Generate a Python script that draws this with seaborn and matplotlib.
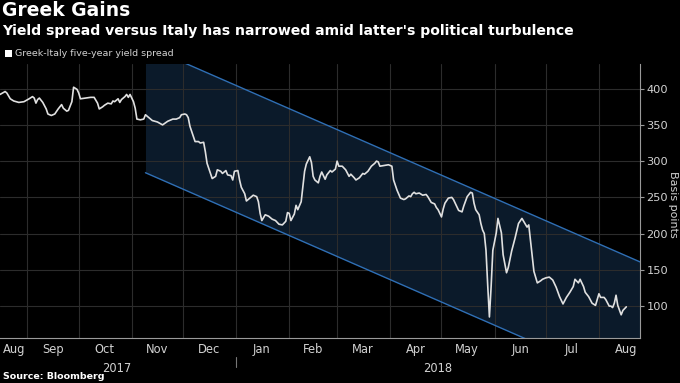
import matplotlib
matplotlib.use("Agg")
import matplotlib.pyplot as plt
import matplotlib.dates as mdates
import matplotlib.transforms as mtransforms
from matplotlib.ticker import NullFormatter
from matplotlib.patches import Rectangle
import seaborn as sns
import pandas as pd

# ---------------- data ----------------
dates = [
    "2017-08-16", "2017-08-19", "2017-08-20", "2017-08-22", "2017-08-24", "2017-08-27", "2017-08-30",
    "2017-09-02", "2017-09-04", "2017-09-05", "2017-09-06", "2017-09-07", "2017-09-08", "2017-09-10",
    "2017-09-12", "2017-09-13", "2017-09-15", "2017-09-17", "2017-09-19", "2017-09-21", "2017-09-22",
    "2017-09-24", "2017-09-25", "2017-09-27", "2017-09-28", "2017-09-30",
    "2017-10-01", "2017-10-02", "2017-10-05", "2017-10-08", "2017-10-10", "2017-10-12", "2017-10-13",
    "2017-10-15", "2017-10-16", "2017-10-18", "2017-10-20", "2017-10-21", "2017-10-22", "2017-10-24",
    "2017-10-25", "2017-10-26", "2017-10-28", "2017-10-29", "2017-10-30", "2017-10-31",
    "2017-11-02", "2017-11-03", "2017-11-04", "2017-11-06", "2017-11-08", "2017-11-09", "2017-11-11",
    "2017-11-13", "2017-11-16", "2017-11-19", "2017-11-22", "2017-11-25", "2017-11-27", "2017-11-29",
    "2017-11-30",
    "2017-12-02", "2017-12-03", "2017-12-04", "2017-12-05", "2017-12-07", "2017-12-08", "2017-12-10",
    "2017-12-11", "2017-12-13", "2017-12-14", "2017-12-15", "2017-12-17", "2017-12-18", "2017-12-20",
    "2017-12-21", "2017-12-23", "2017-12-24", "2017-12-26", "2017-12-27", "2017-12-29", "2017-12-30",
    "2017-12-31",
    "2018-01-02", "2018-01-03", "2018-01-04", "2018-01-06", "2018-01-07", "2018-01-09", "2018-01-11",
    "2018-01-13", "2018-01-14", "2018-01-15", "2018-01-16", "2018-01-18", "2018-01-20", "2018-01-22",
    "2018-01-24", "2018-01-26", "2018-01-28", "2018-01-30", "2018-01-31",
    "2018-02-01", "2018-02-02", "2018-02-04", "2018-02-05", "2018-02-06", "2018-02-08", "2018-02-09",
    "2018-02-10", "2018-02-11", "2018-02-12", "2018-02-13", "2018-02-14", "2018-02-15", "2018-02-16",
    "2018-02-18", "2018-02-19", "2018-02-20", "2018-02-22", "2018-02-23", "2018-02-25", "2018-02-26",
    "2018-02-28",
    "2018-03-01", "2018-03-02", "2018-03-04", "2018-03-06", "2018-03-08", "2018-03-09", "2018-03-11",
    "2018-03-12", "2018-03-14", "2018-03-16", "2018-03-17", "2018-03-19", "2018-03-21", "2018-03-23",
    "2018-03-24", "2018-03-25", "2018-03-26", "2018-03-31",
    "2018-04-02", "2018-04-03", "2018-04-05", "2018-04-07", "2018-04-09", "2018-04-10", "2018-04-12",
    "2018-04-13", "2018-04-14", "2018-04-15", "2018-04-16", "2018-04-18", "2018-04-20", "2018-04-22",
    "2018-04-23", "2018-04-25", "2018-04-27", "2018-04-28", "2018-04-29",
    "2018-05-01", "2018-05-02", "2018-05-03", "2018-05-05", "2018-05-07", "2018-05-08", "2018-05-10",
    "2018-05-11", "2018-05-13", "2018-05-14", "2018-05-16", "2018-05-18", "2018-05-19", "2018-05-20",
    "2018-05-21", "2018-05-23", "2018-05-24", "2018-05-25", "2018-05-26", "2018-05-27", "2018-05-28",
    "2018-05-29", "2018-05-30", "2018-05-31",
    "2018-06-02", "2018-06-03", "2018-06-05", "2018-06-06", "2018-06-08", "2018-06-09", "2018-06-11",
    "2018-06-13", "2018-06-15", "2018-06-17", "2018-06-18", "2018-06-20", "2018-06-21", "2018-06-22",
    "2018-06-23", "2018-06-24", "2018-06-26", "2018-06-28", "2018-06-29",
    "2018-07-01", "2018-07-03", "2018-07-05", "2018-07-07", "2018-07-09", "2018-07-11", "2018-07-13",
    "2018-07-15", "2018-07-17", "2018-07-18", "2018-07-20", "2018-07-21", "2018-07-23", "2018-07-24",
    "2018-07-26", "2018-07-28", "2018-07-30",
    "2018-08-01", "2018-08-02", "2018-08-04", "2018-08-05", "2018-08-07", "2018-08-08", "2018-08-09",
    "2018-08-10", "2018-08-11", "2018-08-12", "2018-08-14", "2018-08-15", "2018-08-17",
]
spread = [
    392, 396, 394, 386, 383, 381, 382,
    386, 389, 387, 380, 385, 387, 381,
    372, 365, 363, 365, 372, 378, 373,
    369, 370, 382, 402, 399,
    394, 386, 387, 388, 388, 380, 372,
    375, 377, 380, 379, 383, 382, 386,
    381, 385, 389, 392, 388, 392,
    382, 373, 358, 357, 358, 364, 360,
    356, 354, 350, 355, 358, 358, 360,
    364,
    365, 364, 360, 348, 334, 327, 327,
    325, 326, 313, 297, 283, 276, 279,
    288, 286, 283, 287, 281, 280, 274,
    286,
    287, 274, 264, 255, 245, 249, 253,
    251, 244, 228, 218, 226, 224, 220,
    218, 213, 212, 217, 229,
    228, 218, 227, 239, 233, 244, 265,
    286, 296, 301, 306, 298, 279, 274,
    270, 279, 285, 275, 281, 287, 285,
    289,
    300, 293, 293, 288, 279, 282, 277,
    274, 277, 283, 282, 286, 293, 297,
    300, 299, 293, 295,
    293, 274, 260, 249, 247, 248, 252,
    251, 255, 257, 255, 256, 253, 254,
    251, 243, 241, 236, 233,
    223, 234, 242, 249, 250, 247, 237,
    232, 230, 238, 251, 257, 256, 242,
    233, 226, 214, 205, 200, 177, 129,
    85, 127, 177,
    201, 221, 201, 171, 146, 153, 176,
    194, 214, 221, 217, 209, 212, 191,
    171, 148, 132, 135, 137,
    139, 140, 136, 126, 113, 103, 112,
    119, 127, 137, 132, 137, 127, 119,
    113, 104, 101,
    117, 112, 112, 109, 100, 100, 98,
    104, 115, 101, 88, 94, 99,
]

# downward-sloping channel drawn on the chart
channel_dates = ["2017-11-09", "2018-08-25"]
channel_upper = [459, 161]
channel_lower = [284, -14]

month_labels = ["Aug", "Sep", "Oct", "Nov", "Dec", "Jan", "Feb", "Mar",
                "Apr", "May", "Jun", "Jul", "Aug"]
month_label_dates = ["2017-08-24", "2017-09-16", "2017-10-16", "2017-11-16",
                     "2017-12-16", "2018-01-16", "2018-02-15", "2018-03-16",
                     "2018-04-16", "2018-05-16", "2018-06-16", "2018-07-16",
                     "2018-08-17"]
year_labels = ["2017", "2018"]
year_label_dates = ["2017-10-23", "2018-04-29"]
y_ticks = [100, 150, 200, 250, 300, 350, 400]

# ---------------- style ----------------
sns.set_theme(style="dark")
plt.rcParams["font.family"] = ["DejaVu Sans"]
plt.rcParams["axes.axisbelow"] = "line"

BG = "black"
TXT = "#d2d2d2"
GRID = "#2c2c2c"
SPINE = "#9a9a9a"
BLUE = "#2f6fb5"
FILL = "#0b1a2a"

fig = plt.figure(figsize=(6.8, 3.83), dpi=100, facecolor=BG)
ax = fig.add_axes([0.0, 1 - 338 / 383, 640 / 680, (338 - 64) / 383])
ax.set_facecolor(BG)

df = pd.DataFrame({"date": pd.to_datetime(dates), "spread": spread})
ch = pd.DataFrame({"date": pd.to_datetime(channel_dates),
                   "upper": channel_upper, "lower": channel_lower})

ax.fill_between(ch["date"], ch["lower"], ch["upper"], color=FILL, lw=0, zorder=1)
sns.lineplot(data=ch, x="date", y="upper", color=BLUE, lw=1.0, ax=ax, zorder=3)
sns.lineplot(data=ch, x="date", y="lower", color=BLUE, lw=1.0, ax=ax, zorder=3)
sns.lineplot(data=df, x="date", y="spread", color="#e0e0e0", lw=1.2, ax=ax, zorder=4)

ax.set_xlim(pd.Timestamp("2017-08-16"), pd.Timestamp("2018-08-25"))
ax.set_ylim(56, 434)

# x axis: month boundaries as ticks/grid, labels centred on months
ax.xaxis.set_major_locator(mdates.MonthLocator())
ax.xaxis.set_major_formatter(NullFormatter())
ax.set_xticks(pd.to_datetime(month_label_dates), minor=True)
ax.set_xticklabels(month_labels, minor=True)
ax.tick_params(axis="x", which="minor", length=0, pad=3.5, labelsize=8.3, labelcolor=TXT)
ax.tick_params(axis="x", which="major", length=3, width=0.8, color=SPINE)

# y axis on the right
ax.yaxis.tick_right()
ax.set_yticks(y_ticks)
ax.tick_params(axis="y", which="major", length=3, width=0.8, color=SPINE,
               pad=1.5, labelsize=8.2, labelcolor=TXT)
ax.set_xlabel("")
ax.set_ylabel("")

ax.grid(True, which="major", axis="both", color=GRID, lw=0.8)
for s in ["left", "top"]:
    ax.spines[s].set_visible(False)
for s in ["right", "bottom"]:
    ax.spines[s].set_visible(True)
    ax.spines[s].set_color(SPINE)
    ax.spines[s].set_linewidth(0.8)

# year labels and separator
trans = mtransforms.blended_transform_factory(ax.transData, ax.transAxes)
for lab, d in zip(year_labels, year_label_dates):
    ax.text(pd.Timestamp(d), -0.11, lab, transform=trans, ha="center", va="center",
            fontsize=8.3, color=TXT, clip_on=False)
ax.plot([pd.Timestamp("2018-01-01")] * 2, [-0.069, -0.106], transform=trans,
        color="#777777", lw=0.8, clip_on=False)

# right axis title
fig.text(673.5 / 680, 1 - 204 / 383, "Basis points", rotation=270, ha="center", va="center",
         fontsize=8.0, color=TXT)

# titles
fig.text(2 / 680, 1 - 11 / 383, "Greek Gains", fontsize=13.5, fontweight="bold",
         color="white", ha="left", va="center")
fig.text(2 / 680, 1 - 31.5 / 383,
         "Yield spread versus Italy has narrowed amid latter's political turbulence",
         fontsize=10.1, fontweight="bold", color="white", ha="left", va="center")

# legend
fig.patches.append(Rectangle((5 / 680, 1 - 57 / 383), 7 / 680, 7 / 383,
                             transform=fig.transFigure, color="white", lw=0))
fig.text(15 / 680, 1 - 54 / 383, "Greek-Italy five-year yield spread", fontsize=6.8,
         color=TXT, ha="left", va="center")

# source
fig.text(3 / 680, 1 - 376.5 / 383, "Source: Bloomberg", fontsize=6.8, fontweight="bold",
         color="white", ha="left", va="center")

fig.savefig("out.png", dpi=100, facecolor=BG)
